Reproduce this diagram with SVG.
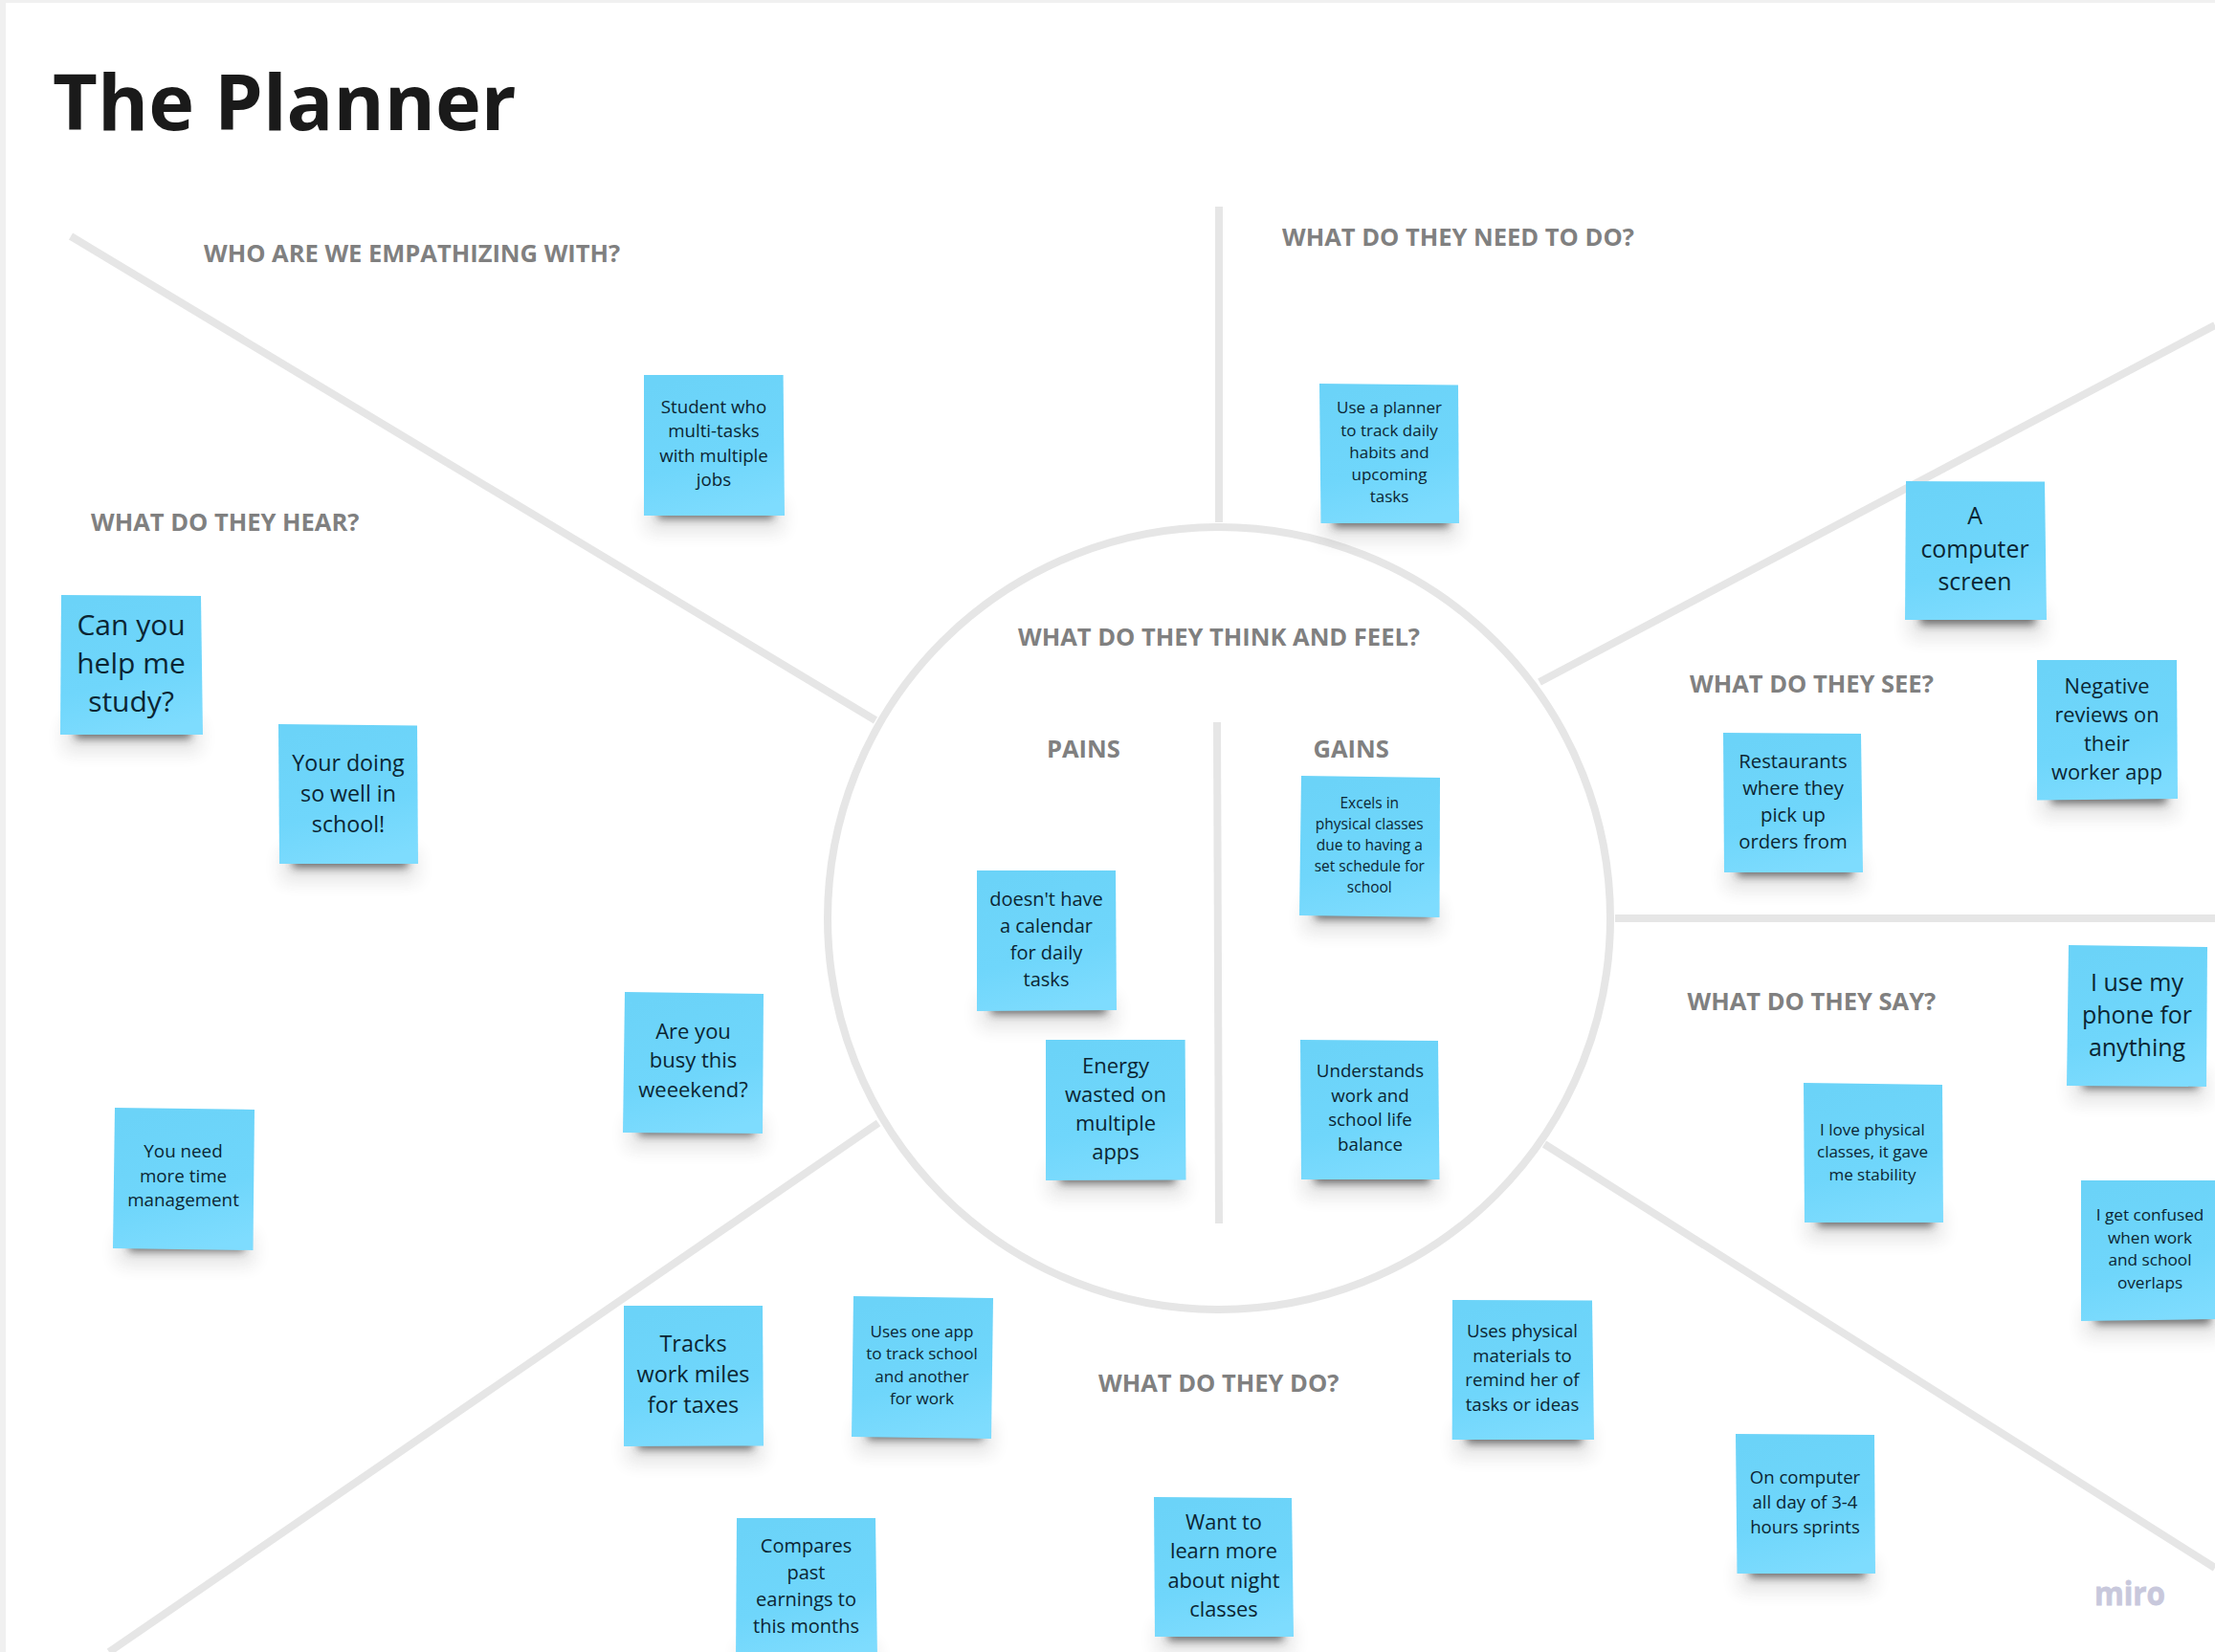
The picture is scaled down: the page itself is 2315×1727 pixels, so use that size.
<svg xmlns="http://www.w3.org/2000/svg" width="2315" height="1727" viewBox="0 0 2315 1727">
<defs>
<linearGradient id="g" x1=".35" y1="0" x2=".6" y2="1"><stop offset="0" stop-color="#6bd3f8"/><stop offset=".6" stop-color="#6fd6fb"/><stop offset="1" stop-color="#7edcfe"/></linearGradient>
<filter id="b" x="-20%" y="-100%" width="140%" height="300%"><feGaussianBlur stdDeviation="4.5"/></filter>
<filter id="b2" x="-30%" y="-100%" width="160%" height="300%"><feGaussianBlur stdDeviation="9"/></filter>
<symbol id="shadow" overflow="visible"><rect x="3" y="132" width="142" height="32" fill="#333" opacity=".13" filter="url(#b2)"/><rect x="15" y="130" width="120" height="20" fill="#333" opacity=".66" filter="url(#b)"/></symbol>
</defs>
<style>
text{font-family:"Open Sans","Noto Sans",sans-serif}
.h{font-weight:700;font-size:25.5px;fill:#808080}
.c line,.c circle{stroke:#e6e6e6;stroke-width:8;fill:none}
.t{fill:#0b2533;text-anchor:middle}
.p{fill:url(#g)}
</style>
<rect width="2315" height="1727" fill="#fff"/>
<rect width="2315" height="3" fill="#f0f0f0"/><rect width="6" height="1727" fill="#f0f0f0"/>
<g id="connectors" class="c">
<line x1="74" y1="247" x2="915" y2="753"/>
<line x1="1274" y1="216" x2="1274" y2="546"/>
<line x1="1609" y1="713" x2="2315" y2="340"/>
<line x1="1688" y1="960" x2="2315" y2="960"/>
<line x1="1614" y1="1196" x2="2315" y2="1639"/>
<line x1="918" y1="1174" x2="114" y2="1727"/>
<line x1="1272" y1="755" x2="1274" y2="1279"/>
<circle cx="1274" cy="960" r="409"/>
</g>
<g id="title"><text x="55" y="135.5" font-size="81" font-weight="700" fill="#1a1a1a">The Planner</text></g>
<g id="headers">
<text class="h" x="213" y="274">WHO ARE WE EMPATHIZING WITH?</text>
<text class="h" x="1340" y="257">WHAT DO THEY NEED TO DO?</text>
<text class="h" x="95" y="555">WHAT DO THEY HEAR?</text>
<text class="h" x="1064" y="674.5">WHAT DO THEY THINK AND FEEL?</text>
<text class="h" x="1766" y="723.5">WHAT DO THEY SEE?</text>
<text class="h" x="1094" y="792">PAINS</text>
<text class="h" x="1372.5" y="792">GAINS</text>
<text class="h" x="1763.5" y="1056">WHAT DO THEY SAY?</text>
<text class="h" x="1148" y="1455">WHAT DO THEY DO?</text>
</g>
<g id="n1" transform="translate(673,392)"><use href="#shadow"/><polygon class="p" points="0,0 145.6,0 147,147 0,147"/><text class="t" font-size="18.7" y="39.6"><tspan x="73">Student who</tspan><tspan x="73" dy="25.5">multi-tasks</tspan><tspan x="73" dy="25.5">with multiple</tspan><tspan x="73" dy="25.5">jobs</tspan></text></g>
<g id="n2" transform="translate(1379,401)"><use href="#shadow"/><polygon class="p" points="0,0 145,1.5 146,146 1.5,146"/><text class="t" font-size="17" y="31.2"><tspan x="73">Use a planner</tspan><tspan x="73" dy="23.3">to track daily</tspan><tspan x="73" dy="23.3">habits and</tspan><tspan x="73" dy="23.3">upcoming</tspan><tspan x="73" dy="23.3">tasks</tspan></text></g>
<g id="n3" transform="translate(1992,503)"><use href="#shadow"/><polygon class="p" points="0,0 145,.5 147,145 -1,145"/><text class="t" font-size="24.8" y="45.2"><tspan x="72">A</tspan><tspan x="72" dy="35">computer</tspan><tspan x="72" dy="34">screen</tspan></text></g>
<g id="n4" transform="translate(2129,690)"><use href="#shadow"/><polygon class="p" points="0,0 146,0 147,145 0,146.5"/><text class="t" font-size="21.8" y="34.6"><tspan x="73">Negative</tspan><tspan x="73" dy="30">reviews on</tspan><tspan x="73" dy="30">their</tspan><tspan x="73" dy="30">worker app</tspan></text></g>
<g id="n5" transform="translate(1801,766)"><use href="#shadow"/><polygon class="p" points="0,0 144,1 146,146 1,146"/><text class="t" font-size="20.3" y="36.8"><tspan x="73">Restaurants</tspan><tspan x="73" dy="28">where they</tspan><tspan x="73" dy="28">pick up</tspan><tspan x="73" dy="28">orders from</tspan></text></g>
<g id="n6" transform="translate(1360,811)"><use href="#shadow"/><polygon class="p" points="0,0 145,2 144.5,148 -2,146"/><text class="t" font-size="15.5" y="33.6"><tspan x="71.3">Excels in</tspan><tspan x="71.3" dy="22">physical classes</tspan><tspan x="71.3" dy="22">due to having a</tspan><tspan x="71.3" dy="22">set schedule for</tspan><tspan x="71.3" dy="22">school</tspan></text></g>
<g id="n7" transform="translate(1021,910)"><use href="#shadow"/><polygon class="p" points="0,0 145,0 146,146 0,147"/><text class="t" font-size="20" y="36.6"><tspan x="72.5">doesn't have</tspan><tspan x="72.5" dy="28">a calendar</tspan><tspan x="72.5" dy="28">for daily</tspan><tspan x="72.5" dy="28">tasks</tspan></text></g>
<g id="n8" transform="translate(1093,1087)"><use href="#shadow"/><polygon class="p" points="0,0 145.6,0 146.5,146.5 0,147"/><text class="t" font-size="22" y="34.6"><tspan x="73">Energy</tspan><tspan x="73" dy="30.3">wasted on</tspan><tspan x="73" dy="30.3">multiple</tspan><tspan x="73" dy="30.3">apps</tspan></text></g>
<g id="n9" transform="translate(1359,1087)"><use href="#shadow"/><polygon class="p" points="0,0 144,1 145.5,146 1,146"/><text class="t" font-size="18.7" y="39"><tspan x="73">Understands</tspan><tspan x="73" dy="25.6">work and</tspan><tspan x="73" dy="25.6">school life</tspan><tspan x="73" dy="25.6">balance</tspan></text></g>
<g id="n10" transform="translate(64,622)"><use href="#shadow"/><polygon class="p" points="0,0 146,1 148,146 -1,146"/><text class="t" font-size="30" y="41.6"><tspan x="73">Can you</tspan><tspan x="73" dy="40">help me</tspan><tspan x="73" dy="40">study?</tspan></text></g>
<g id="n11" transform="translate(291,757)"><use href="#shadow"/><polygon class="p" points="0,0 145,1.5 146,146 1,146"/><text class="t" font-size="23.2" y="48.6"><tspan x="73">Your doing</tspan><tspan x="73" dy="32">so well in</tspan><tspan x="73" dy="32">school!</tspan></text></g>
<g id="n12" transform="translate(653,1037)"><use href="#shadow"/><polygon class="p" points="0,0 145,2 144,148 -2,147"/><text class="t" font-size="22" y="48.6"><tspan x="71.5">Are you</tspan><tspan x="71.5" dy="30.5">busy this</tspan><tspan x="71.5" dy="30.5">weeekend?</tspan></text></g>
<g id="n13" transform="translate(120,1158)"><use href="#shadow"/><polygon class="p" points="0,0 146,2 144.5,149 -2,147"/><text class="t" font-size="18.8" y="52"><tspan x="71.5">You need</tspan><tspan x="71.5" dy="25.6">more time</tspan><tspan x="71.5" dy="25.6">management</tspan></text></g>
<g id="n14" transform="translate(652,1365)"><use href="#shadow"/><polygon class="p" points="0,0 145,0 146,146.5 0,147"/><text class="t" font-size="23.4" y="47.6"><tspan x="72.5">Tracks</tspan><tspan x="72.5" dy="32">work miles</tspan><tspan x="72.5" dy="32">for taxes</tspan></text></g>
<g id="n15" transform="translate(892,1355)"><use href="#shadow"/><polygon class="p" points="0,0 146,2 144,149 -2,147"/><text class="t" font-size="17.1" y="42.5"><tspan x="71.5">Uses one app</tspan><tspan x="71.5" dy="23.5">to track school</tspan><tspan x="71.5" dy="23.5">and another</tspan><tspan x="71.5" dy="23.5">for work</tspan></text></g>
<g id="n16" transform="translate(770,1587)"><use href="#shadow"/><polygon class="p" points="0,0 145,0 147,147 -1,147"/><text class="t" font-size="20" y="35.6"><tspan x="72.5">Compares</tspan><tspan x="72.5" dy="28">past</tspan><tspan x="72.5" dy="28">earnings to</tspan><tspan x="72.5" dy="28">this months</tspan></text></g>
<g id="n17" transform="translate(1206,1565)"><use href="#shadow"/><polygon class="p" points="0,0 144,1 146,146 1,146"/><text class="t" font-size="21.8" y="33.9"><tspan x="73">Want to</tspan><tspan x="73" dy="30.5">learn more</tspan><tspan x="73" dy="30.5">about night</tspan><tspan x="73" dy="30.5">classes</tspan></text></g>
<g id="n18" transform="translate(1518,1359)"><use href="#shadow"/><polygon class="p" points="0,0 146,.5 148,146 -.3,146"/><text class="t" font-size="18.6" y="39.1"><tspan x="73">Uses physical</tspan><tspan x="73" dy="25.5">materials to</tspan><tspan x="73" dy="25.5">remind her of</tspan><tspan x="73" dy="25.5">tasks or ideas</tspan></text></g>
<g id="n19" transform="translate(1814,1499)"><use href="#shadow"/><polygon class="p" points="0,0 145,1 146,146 1.5,146"/><text class="t" font-size="18.6" y="51.5"><tspan x="72.5">On computer</tspan><tspan x="72.5" dy="26">all day of 3-4</tspan><tspan x="72.5" dy="26">hours sprints</tspan></text></g>
<g id="n20" transform="translate(1885,1132)"><use href="#shadow"/><polygon class="p" points="0,0 145,2 146,146 1,146"/><text class="t" font-size="17" y="54.8"><tspan x="72">I love physical</tspan><tspan x="72" dy="23.5">classes, it gave</tspan><tspan x="72" dy="23.5">me stability</tspan></text></g>
<g id="n21" transform="translate(2162,988)"><use href="#shadow"/><polygon class="p" points="0,0 145,2 144,148 -2,147"/><text class="t" font-size="25" y="47.7"><tspan x="71.5">I use my</tspan><tspan x="71.5" dy="34">phone for</tspan><tspan x="71.5" dy="34">anything</tspan></text></g>
<g id="n22" transform="translate(2175,1234)"><use href="#shadow"/><polygon class="p" points="0,0 145,0 145,145 0,147"/><text class="t" font-size="17.2" y="42.2"><tspan x="72">I get confused</tspan><tspan x="72" dy="23.5">when work</tspan><tspan x="72" dy="23.5">and school</tspan><tspan x="72" dy="23.5">overlaps</tspan></text></g>
<g id="logo"><text x="2189" y="1678" font-size="34" font-weight="700" fill="#c8c8dc" stroke="#c8c8dc" stroke-width=".8" font-family="Lato,sans-serif" textLength="74" lengthAdjust="spacingAndGlyphs">miro</text></g>
</svg>
